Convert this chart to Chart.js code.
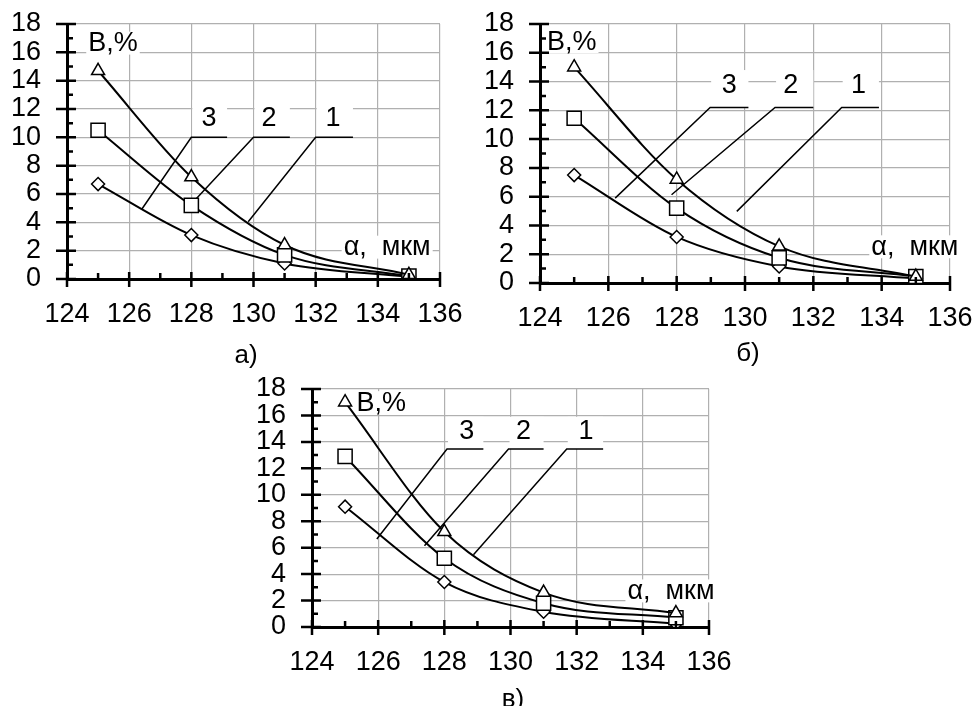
<!DOCTYPE html>
<html>
<head>
<meta charset="utf-8">
<script src="https://cdn.jsdelivr.net/npm/chart.js@4.4.1/dist/chart.umd.min.js"></script>
<style>
body { margin: 0; background: #fff; width: 977px; height: 706px; position: relative; overflow: hidden;
       font-family: 'Liberation Sans', Arial, sans-serif; }
canvas { position: absolute; }
.cap { position: absolute; font-size: 26px; line-height: 26px; color: #000; transform: translate(-50%, -50%); }
</style>
</head>
<body>
<canvas id="chartA" width="470" height="345" style="left:0;top:0"></canvas>
<canvas id="chartB" width="507" height="345" style="left:470px;top:0"></canvas>
<canvas id="chartC" width="500" height="345" style="left:240px;top:360px"></canvas>
<div class="cap" style="left:246px;top:354px">а)</div>
<div class="cap" style="left:748px;top:352px">б)</div>
<div class="cap" style="left:513px;top:698px">в)</div>
<script>
// x positions of the measured points, mkm
const xValues = [125, 128, 131, 135];

// panel а)
const aCurve1 = [14.7, 7.2, 2.4, 0.3];
const aCurve2 = [10.5, 5.2, 1.7, 0.2];
const aCurve3 = [6.7, 3.1, 1.1, 0.15];

// panel б)
const bCurve1 = [15.0, 7.2, 2.55, 0.45];
const bCurve2 = [11.45, 5.2, 1.75, 0.45];
const bCurve3 = [7.5, 3.2, 1.15, 0.3];

// panel в)
const cCurve1 = [17.0, 7.2, 2.6, 1.05];
const cCurve2 = [12.9, 5.2, 1.8, 0.7];
const cCurve3 = [9.1, 3.4, 1.15, 0.25];

// axis ranges (labels every 2, ticks every 1)
const xMin = 124, xMax = 136;
const yMin = 0, yMax = 18;

const FONT = "'Liberation Sans', Arial, sans-serif";
Chart.defaults.font.family = FONT;
Chart.defaults.font.size = 27;
Chart.defaults.color = '#000';

// leader lines with the curve numbers, title texts
const notesPlugin = {
    id: 'notes',
    beforeDatasetsDraw(chart, args, opts) {
        const { ctx, scales: { x, y } } = chart;
        const px = v => x.getPixelForValue(v);
        const py = v => y.getPixelForValue(v);
        ctx.save();
        ctx.textAlign = 'center';
        ctx.textBaseline = 'middle';
        opts.leaders.forEach(l => {
            const x0 = px(l.x0), x1 = px(l.x1), yl = py(l.y), yt = py(l.top);
            ctx.fillStyle = '#fff';
            ctx.fillRect(x0 + 1, yt, x1 - x0 - 1, yl - yt);
            ctx.strokeStyle = '#000';
            ctx.lineWidth = 1.5;
            ctx.beginPath();
            ctx.moveTo(px(l.tx), py(l.ty));
            ctx.lineTo(x0, yl);
            ctx.lineTo(x1, yl);
            ctx.stroke();
            ctx.fillStyle = '#000';
            ctx.font = '27px ' + FONT;
            ctx.fillText(l.text, px(l.lx), py(l.ly));
        });
        opts.titles.forEach(t => {
            ctx.font = t.size + 'px ' + FONT;
            const w = ctx.measureText(t.text).width;
            const cx = px(t.x), cy = py(t.y);
            ctx.fillStyle = '#fff';
            ctx.fillRect(cx - w / 2 - 2, cy - t.size * 0.45, w + 4, t.size * 0.85);
            ctx.fillStyle = '#000';
            ctx.fillText(t.text, cx, cy);
        });
        ctx.restore();
    },
    afterDraw(chart) {
        const { ctx, chartArea: { left, bottom }, scales: { x, y } } = chart;
        ctx.save();
        ctx.strokeStyle = '#000';
        ctx.lineWidth = 2.5;
        ctx.beginPath();
        for (let v = xMin; v <= xMax; v++) {
            const p = x.getPixelForValue(v);
            if (v % 2 === 0) { ctx.moveTo(p, bottom - 7); ctx.lineTo(p, bottom + 8); }
            else { ctx.moveTo(p, bottom - 6); ctx.lineTo(p, bottom); }
        }
        for (let v = yMin; v <= yMax; v++) {
            const p = y.getPixelForValue(v);
            if (v % 2 === 0) { ctx.moveTo(left - 11, p); ctx.lineTo(left + 9, p); }
            else { ctx.moveTo(left, p); ctx.lineTo(left + 6, p); }
        }
        ctx.stroke();
        ctx.restore();
    }
};

function series(values, style, radius) {
    return {
        data: xValues.map((x, i) => ({ x: x, y: values[i] })),
        borderColor: '#000',
        borderWidth: 2,
        cubicInterpolationMode: 'monotone',
        pointStyle: style,
        pointRadius: radius,
        pointBackgroundColor: '#fff',
        pointBorderColor: '#000',
        pointBorderWidth: 1.5
    };
}

// fixed axis sizes, no extra padding from the scales
function fixSize(s, w, h) {
    if (w) s.width = w;
    if (h) s.height = h;
    s.paddingTop = s.paddingBottom = s.paddingLeft = s.paddingRight = 0;
}

function gridColor(c) {
    return c.tick && c.tick.value % 2 === 0 ? '#b0b0b0' : 'rgba(0,0,0,0)';
}

function makeChart(id, curves, padding, notes) {
    new Chart(document.getElementById(id), {
        type: 'line',
        data: {
            datasets: [
                series(curves[0], 'triangle', 7.5),
                series(curves[1], 'rect', 10),
                series(curves[2], 'rectRot', 6.5)
            ]
        },
        options: {
            responsive: false,
            animation: false,
            layout: { padding: padding },
            plugins: { legend: { display: false }, tooltip: { enabled: false }, notes: notes },
            scales: {
                x: {
                    type: 'linear', min: xMin, max: xMax,
                    afterFit: s => fixSize(s, 0, 50),
                    ticks: { stepSize: 1, autoSkip: false, maxRotation: 0, padding: 19,
                             callback: v => (v % 2 === 0 ? v : '') },
                    grid: { drawTicks: false, lineWidth: 1.2, color: gridColor },
                    border: { color: '#000', width: 3 }
                },
                y: {
                    min: yMin, max: yMax,
                    afterFit: s => fixSize(s, 60, 0),
                    ticks: { stepSize: 1, autoSkip: false, padding: 26,
                             callback: v => (v % 2 === 0 ? v : '') },
                    grid: { drawTicks: false, lineWidth: 1.2, color: gridColor },
                    border: { color: '#000', width: 3 }
                }
            }
        },
        plugins: [notesPlugin]
    });
}

makeChart('chartA', [aCurve1, aCurve2, aCurve3], { left: 7, top: 24, right: 30, bottom: 16 }, {
    leaders: [
        { text: '3', x0: 128.0, x1: 129.15, y: 10, top: 12.65, tx: 126.41, ty: 4.94, lx: 128.57, ly: 11.3 },
        { text: '2', x0: 130.0, x1: 131.17, y: 10, top: 12.65, tx: 128.12, ty: 5.57, lx: 130.5, ly: 11.3 },
        { text: '1', x0: 132.0, x1: 133.2, y: 10, top: 12.65, tx: 129.83, ty: 4.04, lx: 132.56, ly: 11.3 }
    ],
    titles: [
        { text: 'В,%', x: 125.48, y: 16.6, size: 27 },
        { text: 'α,  мкм', x: 134.3, y: 2.2, size: 27 }
    ]
});

makeChart('chartB', [bCurve1, bCurve2, bCurve3], { left: 10, top: 24, right: 27, bottom: 12 }, {
    leaders: [
        { text: '3', x0: 128.98, x1: 130.1, y: 12.2, top: 14.8, tx: 126.2, ty: 5.9, lx: 129.54, ly: 13.69 },
        { text: '2', x0: 130.88, x1: 132.0, y: 12.2, top: 14.8, tx: 127.85, ty: 6.13, lx: 131.34, ly: 13.69 },
        { text: '1', x0: 132.83, x1: 133.92, y: 12.2, top: 14.8, tx: 129.76, ty: 4.98, lx: 133.32, ly: 13.69 }
    ],
    titles: [
        { text: 'В,%', x: 124.93, y: 16.73, size: 27 },
        { text: 'α,  мкм', x: 134.97, y: 2.47, size: 27 }
    ]
});

makeChart('chartC', [cCurve1, cCurve2, cCurve3], { left: 12, top: 29, right: 31, bottom: 28 }, {
    leaders: [
        { text: '3', x0: 128.08, x1: 129.18, y: 13.46, top: 15.9, tx: 125.96, ty: 6.65, lx: 128.68, ly: 14.77 },
        { text: '2', x0: 129.94, x1: 131.0, y: 13.46, top: 15.9, tx: 127.4, ty: 6.15, lx: 130.39, ly: 14.77 },
        { text: '1', x0: 131.7, x1: 132.8, y: 13.46, top: 15.9, tx: 128.88, ty: 5.47, lx: 132.28, ly: 14.77 }
    ],
    titles: [
        { text: 'В,%', x: 126.09, y: 16.92, size: 27 },
        { text: 'α,  мкм', x: 134.85, y: 2.68, size: 27 }
    ]
});
</script>
</body>
</html>
